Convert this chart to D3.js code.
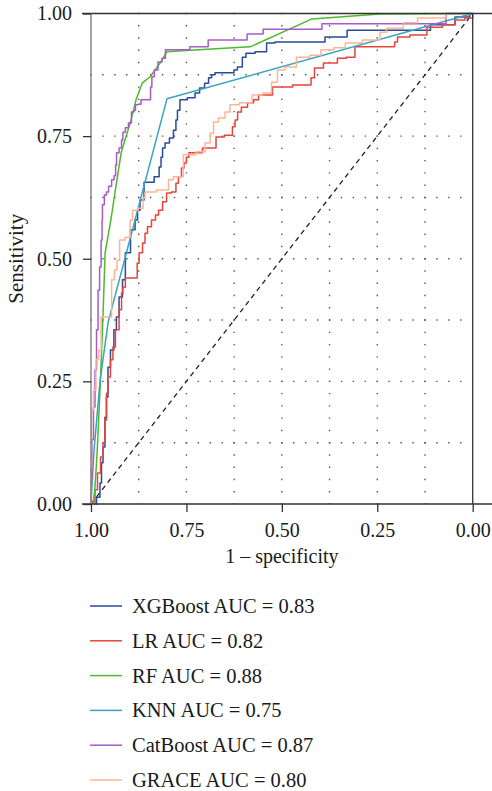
<!DOCTYPE html>
<html>
<head>
<meta charset="utf-8">
<script src="https://cdn.jsdelivr.net/npm/d3@7"></script>
<style>
body { margin: 0; background: #fff; }
svg text { font-family: "Liberation Serif"; fill: #1a1a1a; }
</style>
</head>
<body>
<svg id="chart" width="492" height="791"></svg>
<script>
"use strict";

// models, legend order
var modelNames = ["XGBoost", "LR", "RF", "KNN", "CatBoost", "GRACE"];
var aucValues = ["0.83", "0.82", "0.88", "0.75", "0.87", "0.80"];
var modelColors = ["#2a4b9c", "#e6443b", "#4fb92c", "#38a4c0", "#a65cc8", "#fdb596"];
// stair-step curves vs smooth ones
var modelStepped = [true, true, false, false, true, true];

// ROC points as [specificity, sensitivity]
var xgbRoc = [[.987,0],[.984,.014],[.979,.014],[.974,.043],[.971,.084],[.966,.116],[.961,.177],[.958,.218],[.953,.279],[.945,.314],[.935,.355],[.932,.381],[.921,.422],[.914,.457],[.906,.512],[.887,.559],[.882,.579],[.874,.599],[.869,.620],[.853,.656],[.845,.656],[.824,.667],[.819,.687],[.814,.707],[.811,.726],[.801,.736],[.788,.746],[.780,.762],[.775,.783],[.772,.803],[.762,.824],[.733,.828],[.722,.838],[.709,.848],[.696,.858],[.688,.869],[.680,.875],[.670,.879],[.628,.879],[.623,.885],[.610,.891],[.597,.911],[.591,.919],[.549,.922],[.531,.940],[.505,.942],[.400,.942],[.374,.952],[.342,.952],[.316,.966],[.143,.966],[.078,.977],[.015,.993],[0,1]];

var lrRoc = [[.992,0],[.987,.029],[.979,.063],[.971,.096],[.966,.124],[.961,.171],[.958,.226],[.953,.259],[.945,.294],[.940,.320],[.932,.355],[.921,.396],[.919,.430],[.914,.442],[.906,.461],[.879,.461],[.879,.491],[.869,.512],[.861,.532],[.856,.552],[.848,.565],[.835,.579],[.827,.589],[.819,.599],[.806,.616],[.798,.634],[.780,.636],[.775,.654],[.767,.667],[.759,.685],[.754,.695],[.746,.707],[.741,.716],[.709,.716],[.707,.726],[.675,.726],[.670,.748],[.631,.752],[.628,.769],[.617,.783],[.615,.799],[.597,.809],[.583,.818],[.565,.824],[.557,.834],[.531,.834],[.518,.850],[.426,.854],[.421,.869],[.408,.889],[.374,.899],[.335,.909],[.327,.911],[.290,.932],[.211,.932],[.198,.942],[.196,.952],[.133,.956],[.107,.972],[.052,.977],[.041,.987],[0,.991],[0,1]];

var rfRoc = [[.995,0],[.990,.029],[.984,.104],[.976,.239],[.969,.375],[.963,.512],[.948,.579],[.935,.646],[.921,.716],[.895,.783],[.882,.824],[.866,.858],[.845,.871],[.819,.899],[.801,.922],[.762,.924],[.583,.932],[.421,.989],[.243,.999],[0,1]];

var knnRoc = [[1,0],[.992,.110],[.976,.253],[.955,.371],[.801,.826],[0,1]];

var catRoc = [[1,0],[1,.049],[.995,.131],[.992,.198],[.987,.273],[.984,.355],[.979,.436],[.976,.483],[.971,.538],[.971,.579],[.969,.610],[.961,.630],[.958,.636],[.950,.648],[.942,.661],[.937,.669],[.934,.691],[.932,.716],[.921,.726],[.919,.742],[.914,.758],[.906,.767],[.898,.777],[.890,.799],[.885,.803],[.882,.814],[.872,.815],[.866,.824],[.845,.824],[.843,.850],[.838,.871],[.830,.885],[.819,.901],[.809,.909],[.801,.926],[.741,.926],[.741,.932],[.693,.932],[.693,.946],[.591,.946],[.591,.958],[.549,.958],[.549,.968],[.395,.968],[.395,.979],[.073,.979],[.067,1],[0,1]];

var graceRoc = [[1,0],[1,.075],[.997,.192],[.990,.232],[.984,.294],[.976,.314],[.971,.381],[.950,.381],[.942,.457],[.935,.477],[.929,.497],[.921,.538],[.900,.544],[.895,.579],[.887,.599],[.866,.603],[.861,.624],[.856,.636],[.801,.640],[.793,.661],[.775,.667],[.741,.712],[.709,.718],[.693,.736],[.683,.756],[.675,.779],[.657,.787],[.641,.799],[.631,.814],[.591,.818],[.565,.834],[.536,.838],[.518,.860],[.505,.885],[.479,.891],[.445,.911],[.408,.915],[.387,.926],[.340,.930],[.327,.940],[.251,.946],[.235,.962],[.217,.970],[.146,.981],[.143,.991],[.073,.991],[.067,1],[0,1]];

var rocCurves = [xgbRoc, lrRoc, rfRoc, knnRoc, catRoc, graceRoc];

var xTicks = [1, 0.75, 0.5, 0.25, 0];
var yTicks = [0, 0.25, 0.5, 0.75, 1];
var gridValues = [0.125, 0.25, 0.375, 0.5, 0.625, 0.75, 0.875];

var svg = d3.select("#chart");

var xScale = d3.scaleLinear().domain([1, 0]).range([91, 472.7]);
var yScale = d3.scaleLinear().domain([0, 1]).range([504, 13.5]);

var plotW = xScale(0) - xScale(1);
var plotH = yScale(0) - yScale(1);

// dotted grid
var grid = svg.append("g")
    .attr("stroke", "#555")
    .attr("stroke-width", 1.4);
grid.selectAll("line.gx")
    .data(gridValues)
    .enter().append("line")
    .attr("class", "gx")
    .attr("x1", function(d) { return xScale(d); })
    .attr("x2", function(d) { return xScale(d); })
    .attr("y1", yScale(1) - 0.7)
    .attr("y2", yScale(0))
    .attr("stroke-dasharray", "1.4," + (plotH / 40 - 1.4));
grid.selectAll("line.gy")
    .data(gridValues)
    .enter().append("line")
    .attr("class", "gy")
    .attr("y1", function(d) { return yScale(d); })
    .attr("y2", function(d) { return yScale(d); })
    .attr("x1", xScale(1) - 0.7)
    .attr("x2", xScale(0))
    .attr("stroke-dasharray", "1.4," + (plotW / 32 - 1.4));

// chance line
svg.append("line")
    .attr("x1", xScale(1)).attr("y1", yScale(0))
    .attr("x2", xScale(0)).attr("y2", yScale(1))
    .attr("stroke", "#222")
    .attr("stroke-width", 1.3)
    .attr("stroke-dasharray", "5,4");

// curves
function getLineMaker(stepped) {
    return d3.line()
        .curve(stepped ? d3.curveStep : d3.curveLinear)
        .x(function(d) { return xScale(d[0]); })
        .y(function(d) { return yScale(d[1]); });
};

svg.append("g").selectAll("path")
    .data(rocCurves)
    .enter().append("path")
    .attr("d", function(d, i) { return getLineMaker(modelStepped[i])(d); })
    .attr("fill", "none")
    .attr("stroke", function(d, i) { return modelColors[i]; })
    .attr("stroke-width", 1.5)
    .attr("stroke-linejoin", "round");

// frame
var frame = svg.append("g").attr("stroke", "#333").attr("stroke-width", 1.3);
frame.append("line")
    .attr("x1", 82).attr("x2", 492)
    .attr("y1", yScale(1)).attr("y2", yScale(1));
frame.append("line")
    .attr("x1", 82).attr("x2", 492)
    .attr("y1", yScale(0)).attr("y2", yScale(0));
frame.append("line")
    .attr("x1", xScale(1)).attr("x2", xScale(1))
    .attr("y1", yScale(1)).attr("y2", yScale(0))
    .attr("stroke", "#777");
frame.append("line")
    .attr("x1", xScale(0)).attr("x2", xScale(0))
    .attr("y1", yScale(1)).attr("y2", yScale(0));

// axes
var xAxis = svg.append("g")
    .attr("transform", "translate(0," + yScale(0) + ")")
    .call(d3.axisBottom(xScale)
        .tickValues(xTicks)
        .tickFormat(d3.format(".2f"))
        .tickSize(8)
        .tickPadding(11));
var yAxis = svg.append("g")
    .attr("transform", "translate(" + xScale(1) + ",0)")
    .call(d3.axisLeft(yScale)
        .tickValues(yTicks)
        .tickFormat(d3.format(".2f"))
        .tickSize(8)
        .tickPadding(11));

[xAxis, yAxis].forEach(function(ax) {
    ax.attr("font-family", null).attr("font-size", null);
    ax.select(".domain").remove();
    ax.selectAll(".tick line").attr("stroke", "#333").attr("stroke-width", 1.3);
    ax.selectAll(".tick text")
        .attr("fill", "#1a1a1a")
        .attr("font-size", 20);
});

// axis titles
svg.append("text")
    .attr("x", (xScale(1) + xScale(0)) / 2)
    .attr("y", 563)
    .attr("text-anchor", "middle")
    .attr("font-size", 20)
    .text("1 \u2013 specificity");

svg.append("text")
    .attr("transform", "translate(23," + ((yScale(0) + yScale(1)) / 2) + ") rotate(-90)")
    .attr("text-anchor", "middle")
    .attr("font-size", 21)
    .text("Sensitivity");

// legend
var legendY = d3.scaleLinear().domain([0, modelNames.length - 1]).range([606, 780]);
var legend = svg.append("g").selectAll("g")
    .data(modelNames)
    .enter().append("g")
    .attr("transform", function(d, i) { return "translate(0," + legendY(i) + ")"; });
legend.append("line")
    .attr("x1", 90).attr("x2", 122)
    .attr("stroke", function(d, i) { return modelColors[i]; })
    .attr("stroke-width", 1.5);
legend.append("text")
    .attr("x", 132)
    .attr("dy", "0.34em")
    .attr("font-size", 20.5)
    .text(function(d, i) { return d + " AUC = " + aucValues[i]; });
</script>
</body>
</html>
